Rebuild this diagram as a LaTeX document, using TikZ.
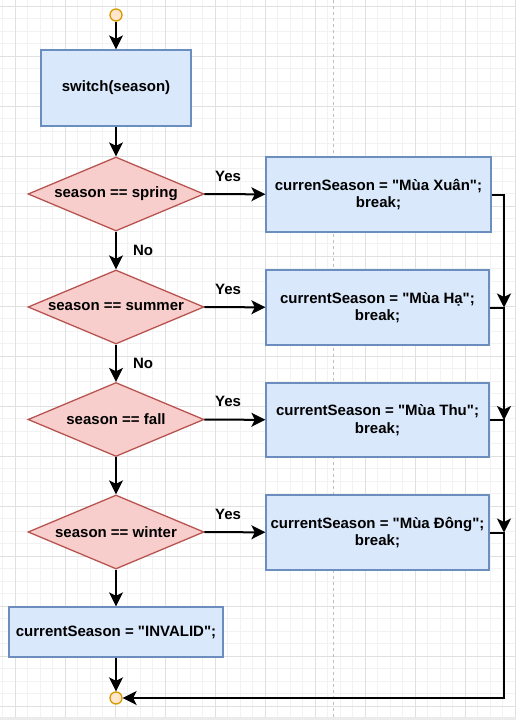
\documentclass[tikz,border=0pt]{standalone}
\usepackage{fontspec}
\setmainfont{Liberation Sans}
\usetikzlibrary{shapes.geometric,arrows.meta}
\definecolor{boxfill}{HTML}{DAE8FC}
\definecolor{boxline}{HTML}{6C8EBF}
\definecolor{condfill}{HTML}{F8CECC}
\definecolor{condline}{HTML}{B85450}
\definecolor{termfill}{HTML}{FFE6CC}
\definecolor{termline}{HTML}{D79B00}
\newcommand{\qt}{\textquotedbl}
\tikzset{
  txt/.style={font=\fontsize{15}{17.5}\selectfont\bfseries},
  proc/.style={rectangle, draw=boxline, fill=boxfill, line width=1.3pt, align=center, txt, inner sep=0pt},
  cond/.style={diamond, draw=condline, fill=condfill, line width=1.3pt, txt, inner sep=0pt, aspect=2.38, minimum width=176pt, minimum height=74pt},
  term/.style={circle, draw=termline, fill=termfill, line width=1.3pt, minimum size=12pt, inner sep=0pt},
  flow/.style={line width=2pt, -{Stealth[length=14pt,width=14pt,inset=3.5pt]}},
  lbl/.style={txt, inner sep=0pt}
}
\begin{document}
\begin{tikzpicture}[x=1pt, y=-1pt]
  \useasboundingbox (0,0) rectangle (516,720);
  \fill[white] (0,0) rectangle (516,720);
  \foreach \x in {2.5,15,...,515} \draw[black!5, line width=0.6pt] (\x,0) -- (\x,717);
  \foreach \y in {6,18.5,...,716} \draw[black!5, line width=0.6pt] (0,\y) -- (516,\y);
  \foreach \x in {15,65,...,515} \draw[black!12, line width=0.8pt] (\x,0) -- (\x,717);
  \foreach \y in {6,56,...,706} \draw[black!12, line width=0.8pt] (0,\y) -- (516,\y);
  \fill[black!8] (0,717) rectangle (516,720);
  \draw[black!25, dash pattern=on 3pt off 3pt] (333,0) -- (333,717);

  \node[term] (start) at (116,15) {};
  \node[proc, minimum width=150pt, minimum height=76pt] (sw) at (116,88) {switch(season)};
  \node[cond] (spring) at (116,194) {season == spring};
  \node[cond] (summer) at (116,307) {season == summer};
  \node[cond] (fall) at (116,419.5) {season == fall};
  \node[cond] (winter) at (116,532) {season == winter};
  \node[proc, minimum width=214pt, minimum height=50pt] (invalid) at (116,632) {currentSeason = \qt INVALID\qt;};
  \node[term] (end) at (116,698) {};

  \node[proc, minimum width=225pt, minimum height=75pt] (xuan) at (378.5,194.5) {currenSeason = \qt Mùa Xuân\qt;\\break;};
  \node[proc, minimum width=223pt, minimum height=75pt] (ha) at (377.5,307.5) {currentSeason = \qt Mùa Hạ\qt;\\break;};
  \node[proc, minimum width=223pt, minimum height=74pt] (thu) at (377.5,420) {currentSeason = \qt Mùa Thu\qt;\\break;};
  \node[proc, minimum width=223pt, minimum height=75pt] (dong) at (377.5,532.5) {currentSeason = \qt Mùa Đông\qt;\\break;};

  \coordinate (jha) at (504,307.5);
  \coordinate (jthu) at (504,420);
  \coordinate (jdong) at (504,532.5);
  \coordinate (jend) at (504,698);

  \draw[flow] (start) -- (sw);
  \draw[flow] (sw) -- (spring);
  \draw[flow] (spring) -- node[lbl, right, xshift=16pt]{No} (summer);
  \draw[flow] (summer) -- node[lbl, right, xshift=16pt]{No} (fall);
  \draw[flow] (fall) -- (winter);
  \draw[flow] (winter) -- (invalid);
  \draw[flow] (invalid) -- (end);

  \draw[flow] (spring) -- node[lbl, above, pos=0.39, yshift=12pt]{Yes} (xuan);
  \draw[flow] (summer) -- node[lbl, above, pos=0.39, yshift=12pt]{Yes} (ha);
  \draw[flow] (fall) -- node[lbl, above, pos=0.39, yshift=12pt]{Yes} (thu);
  \draw[flow] (winter) -- node[lbl, above, pos=0.39, yshift=12pt]{Yes} (dong);

  \draw[flow] (xuan.east) -| (jha);
  \draw[flow] (ha.east) -| (jthu);
  \draw[flow] (thu.east) -| (jdong);
  \draw[flow] (dong.east) -| (jend) -- (end);
\end{tikzpicture}
\end{document}
